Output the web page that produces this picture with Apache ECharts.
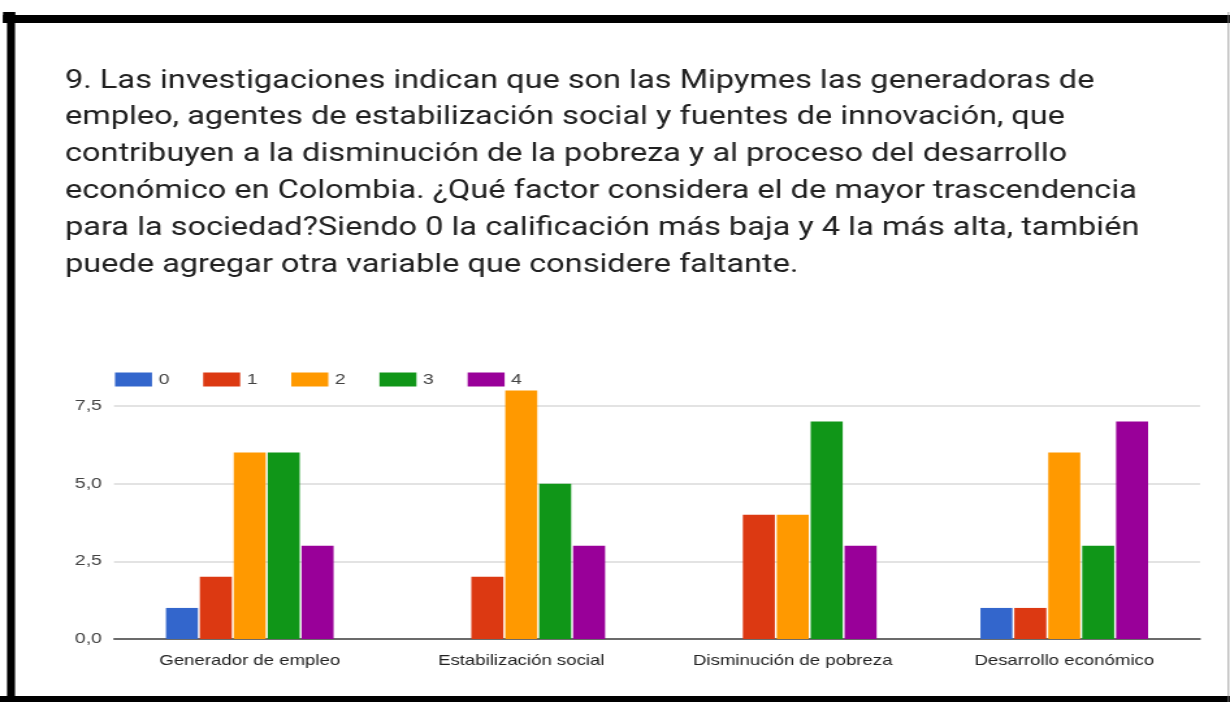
<!DOCTYPE html>
<html>
<head>
<meta charset="utf-8">
<script src="https://cdn.jsdelivr.net/npm/echarts@6/dist/echarts.min.js"></script>
<style>
html,body{margin:0;padding:0;background:#fff;overflow:hidden;}
#chart{width:946px;height:702px;transform:scaleX(1.30021);transform-origin:0 0;}
</style>
</head>
<body>
<div id="chart"></div>
<script>
const titleLines = [
  "9. Las investigaciones indican que son las Mipymes las generadoras de",
  "empleo, agentes de estabilización social y fuentes de innovación, que",
  "contribuyen a la disminución de la pobreza y al proceso del desarrollo",
  "económico en Colombia. ¿Qué factor considera el de mayor trascendencia",
  "para la sociedad?Siendo 0 la calificación más baja y 4 la más alta, también",
  "puede agregar otra variable que considere faltante."
];
const categories = ["Generador de empleo", "Estabilización social", "Disminución de pobreza", "Desarrollo económico"];
const seriesNames = ["0", "1", "2", "3", "4"];
const values0 = [1, 0, 0, 1];
const values1 = [2, 2, 4, 1];
const values2 = [6, 8, 4, 6];
const values3 = [6, 5, 7, 3];
const values4 = [3, 3, 3, 7];
const yTicks = [0, 2.5, 5, 7.5];
const colors = ["#3366cc", "#dc3912", "#ff9900", "#109618", "#990099"];

// the reference picture is stretched horizontally; the chart is drawn at
// 946px wide and widened by CSS, so x-positions below are in that space
const SX = 1230 / 946;
const allValues = [values0, values1, values2, values3, values4];
const chart = echarts.init(document.getElementById('chart'), null, {renderer: 'canvas'});
const option = {
  animation: false,
  backgroundColor: '#ffffff',
  color: colors,
  textStyle: {fontFamily: 'Liberation Sans, Arial, sans-serif'},
  title: {
    text: titleLines.join('\n'),
    left: 65 / SX,
    top: 63,
    padding: 0,
    textStyle: {
      fontFamily: 'Roboto, sans-serif',
      fontSize: 25,
      fontWeight: 'normal',
      color: '#212121',
      lineHeight: 36.8
    }
  },
  legend: {
    data: seriesNames,
    left: 115 / SX,
    top: 372,
    padding: 0,
    itemWidth: 37 / SX,
    itemHeight: 14,
    itemGap: 26,
    icon: 'rect',
    textStyle: {fontSize: 15, color: '#444', fontFamily: 'Liberation Sans, Arial, sans-serif'}
  },
  grid: {left: 114 / SX, right: 30 / SX, top: 406, bottom: 63, containLabel: false},
  xAxis: {
    type: 'category',
    data: categories,
    axisTick: {show: false},
    axisLine: {lineStyle: {color: '#444', width: 1.5}},
    axisLabel: {fontSize: 14.3, color: '#222', margin: 15, interval: 0, hideOverlap: false}
  },
  yAxis: {
    type: 'value',
    min: yTicks[0],
    max: yTicks[yTicks.length - 1],
    interval: 2.5,
    axisLine: {show: false},
    axisTick: {show: false},
    axisLabel: {
      fontSize: 15, color: '#444', margin: 12 / SX,
      formatter: v => v.toFixed(1).replace('.', ',')
    },
    splitLine: {lineStyle: {color: '#dadada', width: 1.5}}
  },
  series: seriesNames.map((n, i) => ({
    name: n,
    type: 'bar',
    data: allValues[i],
    barWidth: 32 / SX,
    barGap: '6%',
    clip: false,
    itemStyle: {color: colors[i]}
  })),
  graphic: [
    {type: 'rect', shape: {x: 3 / SX, y: 15, width: 1227 / SX, height: 8}, style: {fill: '#000'}, z: 100},
    {type: 'rect', shape: {x: 3 / SX, y: 12, width: 12 / SX, height: 11}, style: {fill: '#000'}, z: 100},
    {type: 'rect', shape: {x: 7 / SX, y: 12, width: 8 / SX, height: 690}, style: {fill: '#000'}, z: 100},
    {type: 'rect', shape: {x: 0, y: 696, width: 1230 / SX, height: 6}, style: {fill: '#000'}, z: 100},
    {type: 'rect', shape: {x: 1228 / SX, y: 12, width: 1 / SX, height: 690}, style: {fill: '#888'}, z: 100}
  ]
};
chart.setOption(option);
</script>
</body>
</html>
